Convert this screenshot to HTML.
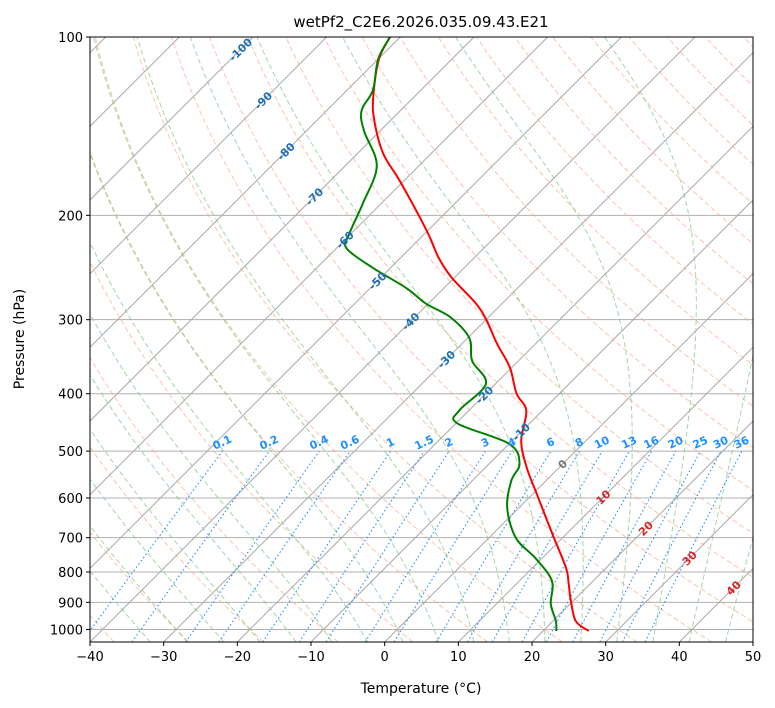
<!DOCTYPE html>
<html><head><meta charset="utf-8"><style>
html,body{margin:0;padding:0;background:#fff;}
svg{display:block;font-family:"DejaVu Sans","Liberation Sans",sans-serif;}
</style></head><body>
<svg id="chart" width="775" height="708" viewBox="0 0 775 708" xmlns="http://www.w3.org/2000/svg">
<defs><clipPath id="clip"><rect x="90" y="37" width="663" height="605"/></clipPath></defs>
<rect width="775" height="708" fill="#fff"/>
<text x="421" y="27" text-anchor="middle" font-size="15">wetPf2_C2E6.2026.035.09.43.E21</text>
<g id="bg" clip-path="url(#clip)"></g>
<g id="data" clip-path="url(#clip)"></g>
<g id="labels"></g>
<rect x="90" y="37" width="663" height="605" fill="none" stroke="#000" stroke-width="1"/>
<g id="axes"></g>
<text x="421" y="693" text-anchor="middle" font-size="14">Temperature (°C)</text>
<text transform="translate(24,339) rotate(-90)" text-anchor="middle" font-size="14">Pressure (hPa)</text>
</svg>
<script>
const T_PRES=[100,109,126,138,157,176,212,236,255,282,301,329,361,400,427,480,533,590,690,788,838,895,968,1006];
const T_TEMP=[-81.4,-79.9,-75.6,-72.3,-66.6,-60.2,-50.2,-44.8,-40.3,-33.5,-29.8,-25.3,-20.3,-15.8,-12.2,-8.8,-4.4,0.5,8.1,14.6,17.1,19.7,23.1,26.2];
const TD_PRES=[100,109,123,133,144,165,191,215,227,245,265,282,297,322,352,385,427,449,486,525,561,623,701,758,828,906,968,1006];
const TD_TEMP=[-81.4,-80.0,-76.5,-75.3,-72.2,-65.7,-62.5,-60.2,-58.7,-52.5,-45.2,-40.3,-35.2,-29.8,-26.3,-21.3,-21.3,-19.8,-10,-5.9,-4.7,-1.6,3.7,9.1,14.4,17.4,20.4,21.8];
const X_TICKS=[-40,-30,-20,-10,0,10,20,30,40,50];
const P_TICKS=[100,200,300,400,500,600,700,800,900,1000];
const MR_VALUES=[0.1,0.2,0.4,0.6,1,1.5,2,3,4,6,8,10,13,16,20,25,30,36];
const ISO_LABELS=[-100,-90,-80,-70,-60,-50,-40,-30,-20,-10,0,10,20,30,40];
const ISO_LABEL_PRES=[105,128,156,186,220,258,302,350,402,464,526,598,675,758,851];

const NS="http://www.w3.org/2000/svg";
const X0=90,X1=753,Y0=37,Y1=642,PMIN=100,PMAX=1050;
const K=(Y1-Y0)/Math.log10(PMAX/PMIN);
const DX=(X1-X0)/90;
function py(p){return Y0+K*Math.log10(p/PMIN);}
function sx(T,p){return X0+(T+40)*DX+(Y1-py(p));}
function el(tag,attrs,parent){const e=document.createElementNS(NS,tag);for(const k in attrs)e.setAttribute(k,attrs[k]);parent.appendChild(e);return e;}
const bg=document.getElementById('bg'),dg=document.getElementById('data'),lg=document.getElementById('labels'),ax=document.getElementById('axes');
function pathOf(pts){return pts.map((q,i)=>(i?'L':'M')+q[0].toFixed(1)+','+q[1].toFixed(1)).join('');}
function smoothPath(pts){let d='M'+pts[0][0].toFixed(1)+','+pts[0][1].toFixed(1);
 for(let i=0;i<pts.length-1;i++){const p0=pts[Math.max(0,i-1)],p1=pts[i],p2=pts[i+1],p3=pts[Math.min(pts.length-1,i+2)];
 const c1=[p1[0]+(p2[0]-p0[0])/6,p1[1]+(p2[1]-p0[1])/6],c2=[p2[0]-(p3[0]-p1[0])/6,p2[1]-(p3[1]-p1[1])/6];
 d+='C'+c1[0].toFixed(1)+','+c1[1].toFixed(1)+' '+c2[0].toFixed(1)+','+c2[1].toFixed(1)+' '+p2[0].toFixed(1)+','+p2[1].toFixed(1);}
 return d;}
const PLEV=[];for(let p=1050;p>=100;p-=5)PLEV.push(p);

P_TICKS.forEach(p=>{const l=el('line',{x1:X0,x2:X1,y1:py(p),y2:py(p),stroke:'#b0b0b0','stroke-width':1},bg);

});
for(let T=-160;T<=50;T+=10){const l=el('line',{x1:sx(T,1050),y1:py(1050),x2:sx(T,100),y2:py(100),stroke:'#a8a8a8','stroke-width':1},bg);

}
for(let th=-80;th<=220;th+=10){const pts=PLEV.map(p=>[sx((th+273.15)*Math.pow(p/1000,0.286)-273.15,p),py(p)]);
const l=el('path',{d:pathOf(pts),fill:'none',stroke:'#f4a582','stroke-width':1,'stroke-dasharray':'5,3',opacity:0.65},bg);

}
function es(T){return 6.112*Math.exp(17.67*T/(T+243.5));}
function dTdp(T,p){const Rd=287.04,Cp=1005.7,Lv=2.501e6,eps=0.622;const e=es(T-273.15);const rs=eps*e/(p-e);
 return (Rd*T+Lv*rs)/(Cp+Lv*Lv*rs*eps/(Rd*T*T))/p;}
function moist(t0){let T=t0+273.15,pts=[];
 for(let q=1000;q<1050;q+=1){T+=dTdp(T,q);}
 for(let p=1050;p>=100;p-=1){if(p%5===0)pts.push([sx(T-273.15,p),py(p)]);T-=dTdp(T,p-1);}
 return pts;}
for(let t0=-35;t0<=45;t0+=5){const l=el('path',{d:pathOf(moist(t0)),fill:'none',stroke:'#7cc47c','stroke-width':1,'stroke-dasharray':'5,3',opacity:0.7},bg);

}
function tdOf(w,p){const e=w*p/(622+w);const a=Math.log(e/6.112);return 243.5*a/(17.67-a);}
MR_VALUES.forEach(w=>{const pts=[];for(let p=1050;p>=500;p-=10)pts.push([sx(tdOf(w,p),p),py(p)]);
 const l=el('path',{d:pathOf(pts),fill:'none',stroke:'#1e90ff','stroke-width':1.1,'stroke-dasharray':'1.5,2.5'},bg);
 
 
 const lx=sx(tdOf(w,500),500),ly=py(500)-5;
 const t=el('text',{x:lx,y:ly,'text-anchor':'middle','font-size':11,'font-weight':'bold',fill:'#1e90ff',transform:`rotate(-25 ${lx} ${ly-3})`},lg);
 t.textContent=String(w);
 
 });
ISO_LABELS.forEach((T,i)=>{const p=ISO_LABEL_PRES[i];const x=sx(T,p),y=py(p);
 const c=T<0?'#1f6fb4':(T===0?'#777':'#d62728');
 const t=el('text',{x:x,y:y+4,'text-anchor':'middle','font-size':11,'font-weight':'bold',fill:c,transform:`rotate(-45 ${x} ${y})`},lg);
 t.textContent=String(T);
 
 });
function prof(P,Tv,col,name){const pts=P.map((p,i)=>[sx(Tv[i],p),py(p)]);
 const l=el('path',{d:smoothPath(pts),fill:'none',stroke:col,'stroke-width':2,'stroke-linejoin':'round'},dg);
 
 }
prof(T_PRES,T_TEMP,'#ff0000','temperature-profile');
prof(TD_PRES,TD_TEMP,'#008000','dewpoint-profile');
X_TICKS.forEach(T=>{const x=X0+(T+40)*DX;el('line',{x1:x,x2:x,y1:Y1,y2:Y1+4,stroke:'#000'},ax);
 const t=el('text',{x:x,y:Y1+19,'text-anchor':'middle','font-size':13},ax);t.textContent=(T<0?'\u2212':'')+Math.abs(T);
 
 });
P_TICKS.forEach(p=>{const y=py(p);el('line',{x1:X0-4,x2:X0,y1:y,y2:y,stroke:'#000'},ax);
 const t=el('text',{x:X0-7,y:y+5,'text-anchor':'end','font-size':13},ax);t.textContent=String(p);
 
 });
</script>
</body></html>
